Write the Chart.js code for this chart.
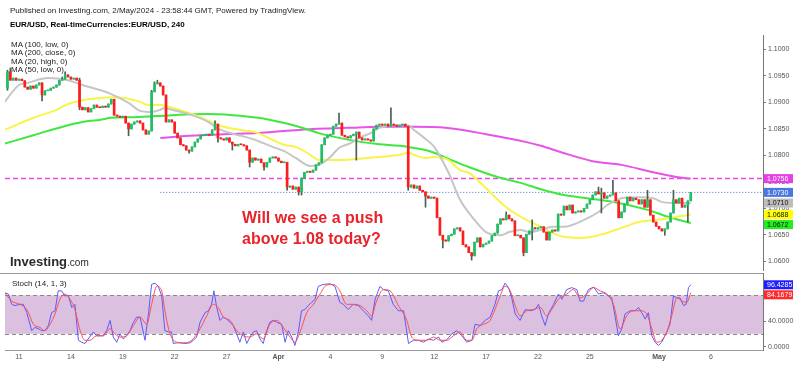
<!DOCTYPE html>
<html>
<head>
<meta charset="utf-8">
<script src="https://cdn.jsdelivr.net/npm/chart.js@4.4.1/dist/chart.umd.min.js"></script>
<style>
  html, body { margin: 0; padding: 0; background: #fff; }
  body { width: 800px; height: 365px; position: relative; overflow: hidden; font-family: "Liberation Sans", Arial, sans-serif; }
  canvas { position: absolute; left: 0; }
  #main { top: 0; }
  #stoch { top: 255px; }
  .txt { position: absolute; white-space: nowrap; color: #222; font-size: 8px; line-height: 9px; }
</style>
</head>
<body>
<canvas id="main" width="800" height="290"></canvas>
<canvas id="stoch" width="800" height="110"></canvas>

<div class="txt" style="left:10px;top:6px;">Published on Investing.com, 2/May/2024 - 23:58:44 GMT, Powered by TradingView.</div>
<div class="txt" style="left:10px;top:20px;font-weight:bold;color:#000;">EUR/USD, Real-timeCurrencies:EUR/USD, 240</div>
<div class="txt" style="left:11px;top:41px;line-height:8.3px;">MA (100, low, 0)<br>MA (200, close, 0)<br>MA (20, high, 0)<br>MA (50, low, 0)</div>
<div class="txt" style="left:242px;top:207px;font-size:16px;line-height:21px;font-weight:bold;color:#e8232b;">Will we see a push<br>above 1.08 today?</div>
<div class="txt" style="left:10px;top:255px;line-height:13px;color:#2a2a2a;"><span style="font-size:13px;font-weight:bold;">Investing</span><span style="font-size:10px;">.com</span></div>
<div class="txt" style="left:12px;top:279px;">Stoch (14, 1, 3)</div>

<script>
// EUR/USD 4H candles, 8 Mar - 2 May 2024 (candle index 0 = last four bars of 8 Mar)
const firstOpen = 1.0927;
const closes = [
  1.0958, 1.0942, 1.0946, 1.0942,
  1.0944, 1.0941, 1.0929, 1.0925, 1.0931, 1.0927,
  1.0933, 1.0937, 1.0914, 1.0922, 1.0923, 1.0927,
  1.0929, 1.0933, 1.0942, 1.0944, 1.0952, 1.0948,
  1.0944, 1.0946, 1.0942, 1.0891, 1.0886, 1.0890,
  1.0882, 1.0888, 1.0895, 1.0891, 1.0890, 1.0893,
  1.0891, 1.0897, 1.0906, 1.0876, 1.0874, 1.0872,
  1.0874, 1.0861, 1.0850, 1.0859, 1.0863, 1.0865,
  1.0861, 1.0848, 1.0840, 1.0846, 1.0920, 1.0935,
  1.0937, 1.0931, 1.0914, 1.0863, 1.0867, 1.0863,
  1.0842, 1.0833, 1.0820, 1.0818, 1.0810, 1.0808,
  1.0816, 1.0825, 1.0831, 1.0837, 1.0838, 1.0840,
  1.0838, 1.0848, 1.0859, 1.0833, 1.0831, 1.0829,
  1.0833, 1.0825, 1.0821, 1.0818, 1.0821, 1.0820,
  1.0818, 1.0810, 1.0787, 1.0795, 1.0791, 1.0793,
  1.0786, 1.0778, 1.0787, 1.0795, 1.0797, 1.0795,
  1.0789, 1.0786, 1.0787, 1.0740, 1.0742, 1.0736,
  1.0740, 1.0731, 1.0757, 1.0768, 1.0770, 1.0768,
  1.0772, 1.0782, 1.0786, 1.0820, 1.0833, 1.0838,
  1.0840, 1.0855, 1.0859, 1.0861, 1.0838, 1.0835,
  1.0833, 1.0837, 1.0840, 1.0844, 1.0833, 1.0829,
  1.0831, 1.0829, 1.0827, 1.0850, 1.0857, 1.0859,
  1.0857, 1.0859, 1.0855, 1.0859, 1.0857, 1.0855,
  1.0857, 1.0859, 1.0855, 1.0740, 1.0744, 1.0738,
  1.0742, 1.0734, 1.0731, 1.0723, 1.0719, 1.0721,
  1.0719, 1.0682, 1.0649, 1.0640, 1.0638, 1.0648,
  1.0651, 1.0661, 1.0663, 1.0657, 1.0631, 1.0627,
  1.0616, 1.0610, 1.0636, 1.0644, 1.0627, 1.0632,
  1.0634, 1.0638, 1.0648, 1.0653, 1.0670, 1.0680,
  1.0678, 1.0687, 1.0680, 1.0676, 1.0648, 1.0649,
  1.0644, 1.0616, 1.0651, 1.0657, 1.0663, 1.0661,
  1.0663, 1.0665, 1.0655, 1.0640, 1.0655, 1.0659,
  1.0657, 1.0689, 1.0687, 1.0704, 1.0697, 1.0706,
  1.0691, 1.0693, 1.0695, 1.0693, 1.0700, 1.0708,
  1.0716, 1.0725, 1.0731, 1.0727, 1.0729, 1.0719,
  1.0723, 1.0725, 1.0729, 1.0714, 1.0682, 1.0693,
  1.0708, 1.0721, 1.0714, 1.0719, 1.0716, 1.0708,
  1.0716, 1.0702, 1.0716, 1.0687, 1.0674, 1.0666,
  1.0661, 1.0657, 1.0661, 1.0674, 1.0691, 1.0716,
  1.0710, 1.0719, 1.0702, 1.0706, 1.0714, 1.0730
];
// wicks that stick out of the body (candle index -> price)
const wickHigh = { 0: 1.0961, 1: 1.0965, 19: 1.0948, 20: 1.0958, 25: 1.0946, 50: 1.0923, 51: 1.0939, 52: 1.0942,
  72: 1.0865, 115: 1.0880, 133: 1.0890, 173: 1.0693, 182: 1.0678, 205: 1.0740, 206: 1.0738, 210: 1.0753,
  222: 1.0734, 231: 1.0734 };
const wickLow = { 0: 1.0923, 12: 1.0903, 25: 1.0886, 42: 1.0837, 63: 1.0804, 73: 1.0825, 78: 1.0810, 84: 1.0778,
  89: 1.0772, 97: 1.0734, 101: 1.0725, 102: 1.0725, 121: 1.0791, 139: 1.0734, 145: 1.0702, 151: 1.0625,
  161: 1.0602, 179: 1.0610, 182: 1.0640, 206: 1.0691, 228: 1.0649, 236: 1.0674 };

// moving averages, read at candle positions
const ma20K = [-1, 4, 7, 14, 21, 26, 35, 42, 46, 49, 53, 54, 57, 64, 69, 74, 81, 85, 92, 96, 100, 105, 108, 112, 115, 119, 122, 126, 129, 134, 139, 141, 145, 148, 153, 157, 162, 166, 171, 174, 178, 181, 185, 189, 193, 200, 205, 208, 213, 219, 224, 227, 231, 237];
const ma20V = [1.0901, 1.0933, 1.0937, 1.0946, 1.0942, 1.0933, 1.0918, 1.0899, 1.0884, 1.0882, 1.0886, 1.0889, 1.0886, 1.0876, 1.0865, 1.0848, 1.0837, 1.0831, 1.0816, 1.0808, 1.0795, 1.0780, 1.0782, 1.0797, 1.0814, 1.0823, 1.0833, 1.0842, 1.0852, 1.0857, 1.0857, 1.0848, 1.0831, 1.0816, 1.0767, 1.0716, 1.0678, 1.0655, 1.0649, 1.0655, 1.0659, 1.0655, 1.0659, 1.0665, 1.0665, 1.0678, 1.0693, 1.0706, 1.0719, 1.0721, 1.0719, 1.0712, 1.0710, 1.0710];
const ma50K = [-1, 9, 17, 21, 28, 37, 41, 46, 49, 53, 57, 63, 69, 75, 81, 87, 92, 96, 100, 105, 108, 114, 121, 129, 136, 139, 141, 145, 148, 153, 157, 160, 166, 173, 180, 185, 189, 193, 199, 205, 213, 219, 225, 230, 237];
const ma50V = [1.0848, 1.0871, 1.0886, 1.0897, 1.0906, 1.0910, 1.0908, 1.0901, 1.0895, 1.0895, 1.0890, 1.0880, 1.0867, 1.0854, 1.0848, 1.0842, 1.0829, 1.0820, 1.0816, 1.0801, 1.0791, 1.0791, 1.0793, 1.0797, 1.0801, 1.0805, 1.0801, 1.0795, 1.0797, 1.0791, 1.0772, 1.0767, 1.0738, 1.0702, 1.0678, 1.0665, 1.0653, 1.0646, 1.0644, 1.0649, 1.0663, 1.0674, 1.0678, 1.0682, 1.0688];
const ma100K = [-1, 9, 21, 28, 32, 36, 44, 57, 69, 78, 87, 96, 101, 108, 115, 123, 129, 136, 141, 145, 148, 154, 160, 170, 178, 185, 193, 201, 210, 222, 229, 237];
const ma100V = [1.0822, 1.0838, 1.0857, 1.0865, 1.0867, 1.0871, 1.0872, 1.0876, 1.0878, 1.0876, 1.0871, 1.0861, 1.0854, 1.0842, 1.0833, 1.0825, 1.0821, 1.0818, 1.0814, 1.0810, 1.0805, 1.0791, 1.0778, 1.0759, 1.0748, 1.0736, 1.0725, 1.0719, 1.0712, 1.0697, 1.0684, 1.0672];
const ma200K = [53, 63, 75, 87, 96, 106, 118, 129, 141, 152, 166, 180, 185, 192, 203, 213, 224, 232, 237];
const ma200V = [1.0833, 1.0837, 1.0840, 1.0842, 1.0846, 1.0850, 1.0852, 1.0854, 1.0854, 1.0852, 1.0840, 1.0825, 1.0818, 1.0806, 1.0789, 1.0782, 1.0768, 1.0759, 1.0756];

// stochastic %K (blue) and %D (red)
const stochKx = [-0.9, 0.3, 1.5, 2.6, 4.3, 5.5, 6.7, 8.4, 9.5, 10.7, 11.9, 13.0, 14.2, 15.3, 16.5, 17.6, 18.8, 19.9, 21.1, 22.3, 23.4, 24.6, 25.7, 26.9, 28.0, 29.8, 30.9, 32.1, 33.2, 34.4, 35.6, 36.7, 37.9, 39.0, 40.2, 41.3, 42.5, 43.7, 44.8, 46.0, 47.7, 48.9, 50.0, 51.2, 52.3, 53.5, 54.6, 55.8, 56.9, 57.5, 58.7, 59.8, 61.6, 63.3, 64.5, 65.6, 66.8, 68.5, 69.7, 70.8, 71.6, 72.6, 73.7, 74.9, 76.0, 77.2, 78.3, 79.5, 80.6, 81.8, 83.0, 84.1, 85.3, 86.4, 87.6, 88.7, 89.9, 91.0, 92.2, 93.4, 95.1, 96.3, 97.4, 98.6, 99.7, 100.9, 102.0, 103.2, 104.3, 105.5, 106.7, 107.8, 109.5, 111.9, 113.6, 115.3, 116.5, 118.2, 119.9, 121.7, 123.4, 125.2, 126.3, 127.5, 129.2, 130.4, 132.1, 133.8, 135.6, 137.4, 139.1, 140.8, 142.6, 144.3, 146.0, 147.8, 149.5, 150.7, 152.4, 154.1, 155.9, 157.6, 159.3, 161.1, 162.2, 163.9, 165.7, 167.4, 169.1, 170.3, 171.5, 172.6, 173.8, 174.9, 176.1, 177.8, 179.6, 181.3, 183.0, 184.2, 185.3, 186.5, 187.6, 189.4, 191.1, 192.3, 194.0, 195.7, 197.5, 198.6, 199.8, 201.5, 203.3, 205.0, 206.7, 208.5, 209.6, 210.8, 211.9, 213.1, 214.2, 216.0, 217.7, 218.9, 220.0, 221.2, 222.3, 223.5, 224.6, 225.8, 226.9, 228.7, 229.8, 231.0, 232.2, 233.3, 234.5, 235.4, 236.2, 237.0];
const stochKv = [84, 82, 66, 64, 66, 66, 53, 25, 30, 28, 25, 25, 33, 53, 56, 87, 87, 79, 80, 61, 66, 10, 7, 5, 12, 23, 17, 17, 17, 25, 41, 15, 7, 20, 12, 17, 25, 38, 46, 46, 10, 51, 97, 99, 94, 79, 25, 23, 23, 5, 6, 6, 5, 6, 10, 15, 38, 53, 56, 66, 87, 61, 41, 46, 43, 38, 33, 20, 7, 23, 5, 15, 23, 25, 12, 5, 25, 38, 41, 38, 35, 7, 25, 15, 2, 23, 56, 58, 64, 69, 74, 94, 97, 98, 94, 69, 66, 58, 66, 64, 56, 48, 41, 74, 94, 89, 87, 66, 56, 56, 5, 10, 10, 7, 12, 10, 15, 7, 11, 20, 25, 17, 7, 10, 35, 33, 41, 46, 66, 87, 89, 99, 92, 76, 51, 41, 58, 56, 58, 66, 48, 33, 51, 66, 82, 74, 89, 92, 89, 71, 71, 89, 93, 82, 84, 79, 76, 46, 17, 28, 51, 56, 56, 61, 53, 43, 53, 17, 7, 2, 7, 23, 35, 79, 76, 76, 64, 66, 92, 96.4285];
const stochDx = [-0.9, 1.5, 4.3, 6.7, 9.0, 11.3, 13.0, 14.8, 16.5, 18.2, 19.9, 21.7, 23.4, 25.2, 26.9, 28.6, 30.9, 33.2, 35.6, 37.3, 39.0, 41.3, 43.7, 46.0, 48.3, 50.0, 51.8, 53.5, 54.6, 56.4, 58.7, 61.0, 63.9, 66.8, 69.1, 71.4, 73.1, 74.9, 77.2, 79.5, 81.8, 84.1, 86.4, 88.7, 91.0, 93.4, 95.7, 98.0, 99.7, 101.5, 103.8, 106.1, 108.4, 110.7, 113.0, 115.3, 117.6, 119.9, 122.3, 124.6, 126.3, 128.0, 130.4, 132.7, 135.6, 138.5, 140.2, 142.6, 145.4, 147.8, 150.1, 152.4, 154.7, 157.0, 159.3, 161.1, 162.8, 165.1, 167.4, 169.1, 170.9, 172.6, 174.4, 176.1, 177.8, 180.1, 182.4, 184.8, 187.1, 188.8, 191.1, 194.0, 196.3, 198.6, 200.9, 203.3, 205.6, 207.9, 210.2, 212.5, 214.8, 217.1, 219.4, 221.7, 223.5, 225.2, 226.9, 228.7, 230.4, 232.2, 233.9, 235.6, 237.0];
const stochDv = [84, 71, 66, 58, 35, 30, 25, 35, 51, 74, 82, 74, 58, 25, 10, 10, 17, 17, 28, 20, 15, 17, 33, 46, 35, 66, 94, 87, 56, 20, 7, 6, 10, 28, 48, 66, 61, 46, 41, 25, 17, 15, 20, 12, 35, 41, 30, 15, 7, 23, 53, 66, 82, 96, 97, 87, 66, 66, 64, 56, 48, 71, 89, 87, 64, 41, 15, 10, 10, 15, 10, 10, 17, 23, 10, 10, 28, 35, 41, 58, 79, 94, 87, 64, 48, 56, 58, 61, 48, 58, 74, 82, 89, 76, 82, 92, 87, 82, 66, 28, 48, 56, 56, 51, 28, 7, 10, 23, 48, 76, 71, 69, 84.1679];

// axes
const tickCandles = [4, 22, 40, 58, 76, 94, 112, 130, 148, 166, 184, 202, 226, 244];
const tickLabels = ['11', '14', '19', '22', '27', 'Apr', '4', '9', '12', '17', '22', '25', 'May', '6'];
const priceTicks = [1.06, 1.065, 1.07, 1.075, 1.08, 1.085, 1.09, 1.095, 1.10];
const stochTicks = [0, 40, 80];
const bandLow = 20, bandHigh = 80;
const lastPriceFrom = 53;

const FONT = '"Liberation Sans", Arial, sans-serif';
Chart.defaults.font.family = FONT;

const X_MIN = -0.857, X_MAX = 262.06;
const UP = '#1fbf66', DOWN = '#ff1c1c', WICK = '#4a5e52';

const bodies = [], wicks = [], bodyColors = [];
let prev = firstOpen;
closes.forEach((c, i) => {
  const o = prev;
  const hi = Math.max(o, c, wickHigh[i] ?? -Infinity);
  const lo = Math.min(o, c, wickLow[i] ?? Infinity);
  bodies.push({ x: i, y: [o, c] });
  wicks.push({ x: i, y: [lo, hi] });
  bodyColors.push(c >= o ? UP : DOWN);
  prev = c;
});

const pts = (xs, ys) => xs.map((x, i) => ({ x: x, y: ys[i] }));
const maLine = (xs, ys, color, order) => ({
  type: 'line', data: pts(xs, ys), borderColor: color, borderWidth: 2,
  pointRadius: 0, cubicInterpolationMode: 'monotone', order: order
});

function valueBoxes(items) {
  return {
    id: 'valueBoxes',
    afterDraw(chart) {
      const { ctx, chartArea, scales } = chart;
      const h = 9;
      const list = items.map(it => Object.assign({}, it, { py: scales.y.getPixelForValue(it.v) }))
        .sort((a, b) => a.py - b.py);
      let last = -Infinity;
      ctx.save();
      ctx.font = '7px ' + FONT;
      ctx.textBaseline = 'middle';
      list.forEach(it => {
        let top = Math.max(it.py - h / 2, last + 1);
        ctx.fillStyle = it.bg;
        ctx.fillRect(chartArea.right + 1, top, 29, h);
        ctx.fillStyle = it.fg;
        ctx.fillText(it.text, chartArea.right + 4, top + h / 2 + 0.5);
        last = top + h;
      });
      ctx.restore();
    }
  };
}

const rightAxis = (min, max, ticks, digits) => ({
  position: 'right', min: min, max: max,
  afterBuildTicks: s => { s.ticks = ticks.map(v => ({ value: v })); },
  afterFit: s => { s.width = 37; },
  ticks: { font: { size: 7 }, color: '#555', padding: 2, callback: v => Number(v).toFixed(digits) },
  grid: { drawOnChartArea: false, drawTicks: true, tickLength: 3, color: '#777' },
  border: { display: true, color: '#777' }
});

new Chart(document.getElementById('main'), {
  type: 'bar',
  data: {
    datasets: [
      { type: 'bar', data: bodies, backgroundColor: bodyColors, barThickness: 2, minBarLength: 1, grouped: false, order: 1 },
      { type: 'bar', data: wicks, backgroundColor: WICK, barThickness: 1, grouped: false, order: 2 },
      maLine(ma20K, ma20V, '#c6c6c6', 3),
      maLine(ma50K, ma50V, '#f7f54a', 4),
      maLine(ma100K, ma100V, '#3fe83f', 5),
      maLine(ma200K, ma200V, '#e655e6', 6),
      { type: 'line', data: [{ x: X_MIN, y: ma200V[ma200V.length - 1] }, { x: X_MAX, y: ma200V[ma200V.length - 1] }],
        borderColor: '#ee44ee', borderWidth: 1.5, borderDash: [5, 3], pointRadius: 0, order: 7 },
      { type: 'line', data: [{ x: lastPriceFrom, y: closes[closes.length - 1] }, { x: X_MAX, y: closes[closes.length - 1] }],
        borderColor: '#4a6fe0', borderWidth: 1, borderDash: [1, 2], pointRadius: 0, order: 8 }
    ]
  },
  options: {
    responsive: false, animation: false, events: [],
    layout: { padding: { left: 5, top: 35, right: 0, bottom: 20 } },
    plugins: { legend: { display: false }, tooltip: { enabled: false } },
    scales: {
      x: { type: 'linear', min: X_MIN, max: X_MAX, offset: false, display: false, grid: { offset: false } },
      y: rightAxis(1.05833, 1.102745, priceTicks, 4)
    }
  },
  plugins: [valueBoxes([
    { v: ma200V[ma200V.length - 1], text: ma200V[ma200V.length - 1].toFixed(4), bg: '#e83ee8', fg: '#fff' },
    { v: closes[closes.length - 1], text: closes[closes.length - 1].toFixed(4), bg: '#4a78e0', fg: '#fff' },
    { v: ma20V[ma20V.length - 1], text: ma20V[ma20V.length - 1].toFixed(4), bg: '#bdbdbd', fg: '#111' },
    { v: ma50V[ma50V.length - 1], text: ma50V[ma50V.length - 1].toFixed(4), bg: '#ffff00', fg: '#111' },
    { v: ma100V[ma100V.length - 1], text: ma100V[ma100V.length - 1].toFixed(4), bg: '#22ee22', fg: '#111' }
  ])]
});

const stochBand = {
  id: 'stochBand',
  beforeDatasetsDraw(chart) {
    const { ctx, chartArea, scales: { y } } = chart;
    const yHi = y.getPixelForValue(bandHigh), yLo = y.getPixelForValue(bandLow);
    ctx.save();
    ctx.fillStyle = '#dcc0df';
    ctx.fillRect(chartArea.left, yHi, chartArea.right - chartArea.left, yLo - yHi);
    ctx.strokeStyle = '#8a8a8a';
    ctx.lineWidth = 1;
    ctx.setLineDash([4, 3]);
    [yHi, yLo].forEach(py => {
      ctx.beginPath();
      ctx.moveTo(chartArea.left, Math.round(py) + 0.5);
      ctx.lineTo(chartArea.right, Math.round(py) + 0.5);
      ctx.stroke();
    });
    ctx.setLineDash([]);
    ctx.strokeStyle = '#999';
    ctx.beginPath();
    ctx.moveTo(0, chartArea.top + 0.5);
    ctx.lineTo(chartArea.right, chartArea.top + 0.5);
    ctx.stroke();
    ctx.restore();
  }
};

new Chart(document.getElementById('stoch'), {
  type: 'line',
  data: {
    datasets: [
      { data: pts(stochKx, stochKv), borderColor: '#5b5bff', borderWidth: 1, pointRadius: 0, tension: 0, order: 2 },
      { data: pts(stochDx, stochDv), borderColor: '#ff5050', borderWidth: 1, pointRadius: 0, cubicInterpolationMode: 'monotone', order: 1 }
    ]
  },
  options: {
    responsive: false, animation: false, events: [],
    layout: { padding: { left: 5, top: 18, right: 0, bottom: 0 } },
    plugins: { legend: { display: false }, tooltip: { enabled: false } },
    scales: {
      x: {
        type: 'linear', min: X_MIN, max: X_MAX, offset: false,
        afterBuildTicks: s => { s.ticks = tickCandles.map(v => ({ value: v })); },
        afterFit: s => { s.height = 15; },
        ticks: {
          autoSkip: false, maxRotation: 0, padding: 3, color: '#555',
          callback: v => tickLabels[tickCandles.indexOf(v)],
          font: ctx => ({ size: 7, weight: (ctx.tick && isNaN(Number(ctx.tick.label))) ? 'bold' : 'normal' })
        },
        grid: { display: false, drawTicks: false },
        border: { display: true, color: '#999' }
      },
      y: rightAxis(-5.14, 114.8, stochTicks, 4)
    }
  },
  plugins: [stochBand, valueBoxes([
    { v: stochKv[stochKv.length - 1], text: stochKv[stochKv.length - 1].toFixed(4), bg: '#1e1eff', fg: '#fff' },
    { v: stochDv[stochDv.length - 1], text: stochDv[stochDv.length - 1].toFixed(4), bg: '#ff2a2a', fg: '#fff' }
  ])]
});
</script>
</body>
</html>
